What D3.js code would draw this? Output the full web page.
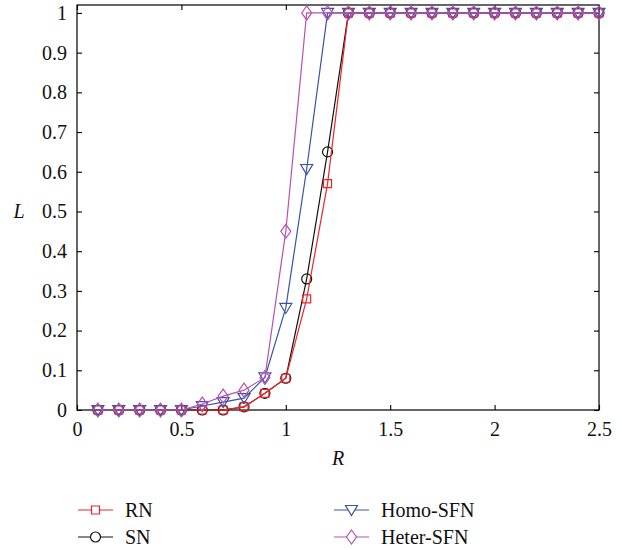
<!DOCTYPE html>
<html>
<head>
<meta charset="utf-8">
<script src="https://cdn.jsdelivr.net/npm/d3@7"></script>
<style>
  html, body { margin: 0; padding: 0; background: #fff; }
  svg { display: block; }
  svg text { font-family: "Liberation Serif", "Times New Roman", "DejaVu Serif", serif !important; }
</style>
</head>
<body>
<svg id="chart" width="622" height="550"></svg>
<script>
// R values (x axis)
const rValues = [0.1, 0.2, 0.3, 0.4, 0.5, 0.6, 0.7, 0.8, 0.9, 1.0, 1.1, 1.2, 1.3,
                 1.4, 1.5, 1.6, 1.7, 1.8, 1.9, 2.0, 2.1, 2.2, 2.3, 2.4, 2.5];

// L values per network type
const rnValues    = [0, 0, 0, 0, 0, 0, 0, 0.008, 0.042, 0.08, 0.28, 0.57, 1,
                     1, 1, 1, 1, 1, 1, 1, 1, 1, 1, 1, 1];
const snValues    = [0, 0, 0, 0, 0, 0, 0, 0.008, 0.042, 0.08, 0.33, 0.65, 1,
                     1, 1, 1, 1, 1, 1, 1, 1, 1, 1, 1, 1];
const homoValues  = [0, 0, 0, 0, 0, 0.01, 0.02, 0.03, 0.082, 0.257, 0.607, 1, 1,
                     1, 1, 1, 1, 1, 1, 1, 1, 1, 1, 1, 1];
const heterValues = [0, 0, 0, 0, 0, 0.015, 0.035, 0.05, 0.082, 0.45, 1, 1, 1,
                     1, 1, 1, 1, 1, 1, 1, 1, 1, 1, 1, 1];

const seriesNames = ["RN", "SN", "Homo-SFN", "Heter-SFN"];
const xTicks = [0, 0.5, 1, 1.5, 2, 2.5];
const yTicks = [0, 0.1, 0.2, 0.3, 0.4, 0.5, 0.6, 0.7, 0.8, 0.9, 1];

const series = [
  { name: seriesNames[0], values: rnValues,    color: "#ee2428", shape: "square" },
  { name: seriesNames[1], values: snValues,    color: "#111111", shape: "circle" },
  { name: seriesNames[2], values: homoValues,  color: "#3a52a4", shape: "triangle" },
  { name: seriesNames[3], values: heterValues, color: "#b552b3", shape: "diamond" }
];
// SN is drawn beneath RN where the two coincide
const drawOrder = [1, 0, 2, 3];

const svg = d3.select("#chart");
const plotLeft = 77, plotRight = 599, plotTop = 5, plotBottom = 410;

const x = d3.scaleLinear().domain([0, 2.5]).range([plotLeft, plotRight]);
const y = d3.scaleLinear().domain([0, 1.02]).range([plotBottom, plotTop]);

const fontSize = 20;

// Frame
svg.append("rect")
  .attr("x", plotLeft).attr("y", plotTop)
  .attr("width", plotRight - plotLeft).attr("height", plotBottom - plotTop)
  .attr("fill", "none").attr("stroke", "#000").attr("stroke-width", 1.2);

// Axes with inward ticks, mirrored on top and right
const tickLen = 5;
const xAxis = svg.append("g").attr("transform", `translate(0,${plotBottom})`)
  .call(d3.axisBottom(x).tickValues(xTicks).tickSizeInner(-tickLen).tickSizeOuter(0)
        .tickPadding(12).tickFormat(d3.format("")));
const xAxisTop = svg.append("g").attr("transform", `translate(0,${plotTop})`)
  .call(d3.axisTop(x).tickValues(xTicks).tickSizeInner(-tickLen).tickSizeOuter(0)
        .tickFormat(""));
const yAxis = svg.append("g").attr("transform", `translate(${plotLeft},0)`)
  .call(d3.axisLeft(y).tickValues(yTicks).tickSizeInner(-tickLen).tickSizeOuter(0)
        .tickPadding(10).tickFormat(d3.format("")));
const yAxisRight = svg.append("g").attr("transform", `translate(${plotRight},0)`)
  .call(d3.axisRight(y).tickValues(yTicks).tickSizeInner(-tickLen).tickSizeOuter(0)
        .tickFormat(""));

[xAxis, xAxisTop, yAxis, yAxisRight].forEach(g => {
  g.attr("font-family", null);
  g.select(".domain").remove();
  g.selectAll(".tick line").attr("stroke", "#000").attr("stroke-width", 1.1);
  g.selectAll("text").attr("font-size", fontSize).attr("fill", "#111");
});

// Axis titles
svg.append("text").attr("x", 19).attr("y", 211).attr("dy", "0.35em")
  .attr("text-anchor", "middle").attr("font-style", "italic")
  .attr("font-size", fontSize).attr("fill", "#111").text("L");
svg.append("text").attr("x", 338).attr("y", 458).attr("dy", "0.35em")
  .attr("text-anchor", "middle").attr("font-style", "italic")
  .attr("font-size", fontSize).attr("fill", "#111").text("R");

// Marker path generators
function markerPath(shape) {
  switch (shape) {
    case "square":   return "M-4,-4H4V4H-4Z";
    case "circle":   return "M5,0A5,5 0 1,1 -5,0A5,5 0 1,1 5,0Z";
    case "triangle": return "M-6,-4.5H6L0,5.5Z";
    case "diamond":  return "M0,-7L5,0L0,7L-5,0Z";
  }
}

const line = d3.line().x(d => x(d[0])).y(d => y(d[1]));

const plot = svg.append("g");
drawOrder.map(i => series[i]).forEach(s => {
  const pts = rValues.map((r, i) => [r, s.values[i]]);
  plot.append("path").datum(pts)
    .attr("d", line).attr("fill", "none")
    .attr("stroke", s.color).attr("stroke-width", 1.2);
  plot.selectAll(null).data(pts).enter().append("path")
    .attr("transform", d => `translate(${x(d[0])},${y(d[1])})`)
    .attr("d", markerPath(s.shape))
    .attr("fill", "none").attr("stroke", s.color).attr("stroke-width", 1.2);
});

// Legend
const legendItems = [
  { s: series[0], lx: 78,  ly: 510 },
  { s: series[1], lx: 78,  ly: 537 },
  { s: series[2], lx: 334, ly: 510 },
  { s: series[3], lx: 334, ly: 537 }
];
const legend = svg.append("g");
legendItems.forEach(it => {
  const g = legend.append("g").attr("transform", `translate(${it.lx},${it.ly})`);
  g.append("line").attr("x1", 0).attr("x2", 35).attr("y1", 0).attr("y2", 0)
    .attr("stroke", it.s.color).attr("stroke-width", 1.2);
  g.append("path").attr("transform", "translate(17.5,0)")
    .attr("d", markerPath(it.s.shape))
    .attr("fill", "#fff").attr("stroke", it.s.color).attr("stroke-width", 1.2);
  g.append("text").attr("x", 47).attr("y", 0).attr("dy", "0.35em")
    .attr("font-size", fontSize).attr("fill", "#111").text(it.s.name);
});
</script>
</body>
</html>
